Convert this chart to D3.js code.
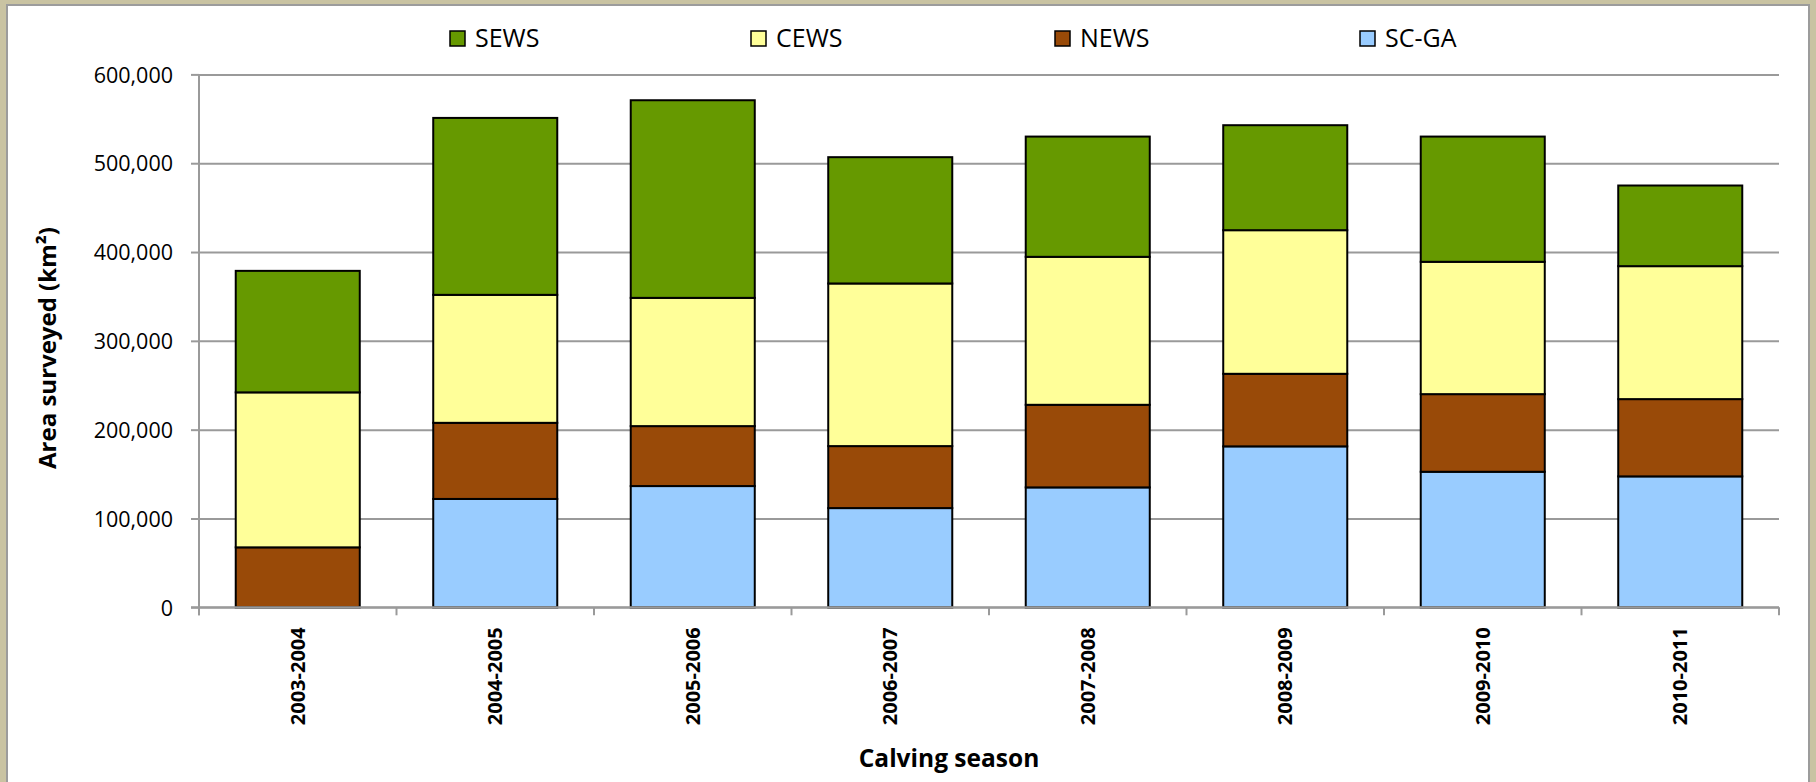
<!DOCTYPE html>
<html>
<head>
<meta charset="utf-8">
<script src="https://cdn.jsdelivr.net/npm/d3@7"></script>
<style>
  html, body { margin: 0; padding: 0; background: #c9c3a2; }
  svg { display: block; }
  text { font-family: "Open Sans", "Noto Sans", sans-serif; fill: #000; }
</style>
</head>
<body>
<svg id="chart" width="1816" height="782"></svg>
<script>
// Calving seasons surveyed
const seasons = ["2003-2004", "2004-2005", "2005-2006", "2006-2007",
                 "2007-2008", "2008-2009", "2009-2010", "2010-2011"];

// Area surveyed per region (km²), stacked bottom to top
const scga = [0, 122000, 136500, 111700, 135000, 181200, 152600, 147400];
const news = [67500, 85700, 67500, 69800, 93000, 81700, 87400, 87000];
const cews = [174500, 144100, 144400, 183100, 166600, 161700, 149000, 149700];
const sews = [136800, 199200, 222500, 142200, 135400, 118200, 141000, 90800];

const seriesNames = ["SC-GA", "NEWS", "CEWS", "SEWS"];
const legendOrder = ["SEWS", "CEWS", "NEWS", "SC-GA"];
const yTicks = [0, 100000, 200000, 300000, 400000, 500000, 600000];

const colors = {
  "SEWS": "#669900",
  "CEWS": "#ffff99",
  "NEWS": "#994a08",
  "SC-GA": "#99ccff"
};

const rows = seasons.map((s, i) => ({
  season: s,
  "SC-GA": scga[i],
  "NEWS": news[i],
  "CEWS": cews[i],
  "SEWS": sews[i]
}));

const svg = d3.select("#chart");

// white chart panel with thin grey frame
svg.append("rect")
  .attr("x", 7).attr("y", 5)
  .attr("width", 1802).attr("height", 790)
  .attr("fill", "#fff")
  .attr("stroke", "#9c9c9c")
  .attr("stroke-width", 2);

const plot = { left: 199, right: 1779, top: 74.4, bottom: 607.3 };

const x = d3.scaleBand()
  .domain(seasons)
  .range([plot.left, plot.right])
  .paddingInner(0.372)
  .paddingOuter(0.186);

const y = d3.scaleLinear()
  .domain([0, 600000])
  .range([plot.bottom, plot.top]);

// horizontal gridlines
const grid = svg.append("g")
  .attr("transform", `translate(${plot.left},0)`)
  .call(d3.axisLeft(y).tickValues(yTicks).tickSize(-(plot.right - plot.left)).tickFormat(""));
grid.select(".domain").remove();
grid.selectAll("line").attr("stroke", "#9a9a9a").attr("stroke-width", 2);

// y axis with tick labels
const yAxis = svg.append("g")
  .attr("transform", `translate(${plot.left},0)`)
  .call(d3.axisLeft(y).tickValues(yTicks).tickSize(8).tickPadding(18)
        .tickFormat(d3.format(",")));
yAxis.select(".domain")
  .attr("d", `M0,${plot.top}V${plot.bottom + 8}`)
  .attr("stroke", "#9a9a9a").attr("stroke-width", 2);
yAxis.selectAll(".tick line").attr("stroke", "#9a9a9a").attr("stroke-width", 2);
yAxis.selectAll(".tick text")
  .attr("font-size", 21.5)
  .attr("font-family", "'Open Sans', sans-serif")
  .attr("dy", "0.36em")
  .attr("fill", "#000");

// stacked bars
const stack = d3.stack().keys(seriesNames);
const layers = stack(rows);

svg.append("g")
  .selectAll("g")
  .data(layers)
  .join("g")
  .attr("fill", d => colors[d.key])
  .selectAll("rect")
  .data(d => d.filter(p => p[1] - p[0] > 0))
  .join("rect")
  .attr("x", d => x(d.data.season))
  .attr("width", x.bandwidth())
  .attr("y", d => y(d[1]))
  .attr("height", d => y(d[0]) - y(d[1]))
  .attr("stroke", "#000")
  .attr("stroke-width", 2);

// x axis line, boundary ticks and rotated season labels
const xAxis = svg.append("g")
  .attr("transform", `translate(0,${plot.bottom})`)
  .call(d3.axisBottom(x).tickSize(0).tickPadding(0));
xAxis.select(".domain")
  .attr("d", `M${plot.left - 8},0H${plot.right}`)
  .attr("stroke", "#9a9a9a").attr("stroke-width", 2);
xAxis.selectAll(".tick text")
  .attr("transform", "rotate(-90)")
  .attr("text-anchor", "end")
  .attr("x", -20)
  .attr("y", 0)
  .attr("dy", "0.36em")
  .attr("font-size", 20)
  .attr("font-weight", "bold")
  .attr("fill", "#000");

const step = x.step();
const boundaries = d3.range(seasons.length + 1).map(i => plot.left + i * step);
xAxis.append("g")
  .selectAll("line")
  .data(boundaries)
  .join("line")
  .attr("x1", d => d).attr("x2", d => d)
  .attr("y1", 0).attr("y2", 8)
  .attr("stroke", "#9a9a9a").attr("stroke-width", 2);

// legend
const legendX = { "SEWS": 450, "CEWS": 751, "NEWS": 1055, "SC-GA": 1360 };
const legend = svg.append("g")
  .selectAll("g")
  .data(legendOrder)
  .join("g")
  .attr("transform", d => `translate(${legendX[d]},31)`);
legend.append("rect")
  .attr("width", 15).attr("height", 15)
  .attr("fill", d => colors[d])
  .attr("stroke", "#000").attr("stroke-width", 1.5);
legend.append("text")
  .attr("x", 25).attr("y", 16)
  .attr("font-size", 25)
  .text(d => d);

// axis titles
svg.append("text")
  .attr("transform", `translate(56,348) rotate(-90)`)
  .attr("text-anchor", "middle")
  .attr("font-size", 24)
  .attr("font-weight", "bold")
  .text("Area surveyed (km²)");

svg.append("text")
  .attr("x", 949).attr("y", 767)
  .attr("text-anchor", "middle")
  .attr("font-size", 24.5)
  .attr("font-weight", "bold")
  .text("Calving season");
</script>
</body>
</html>
